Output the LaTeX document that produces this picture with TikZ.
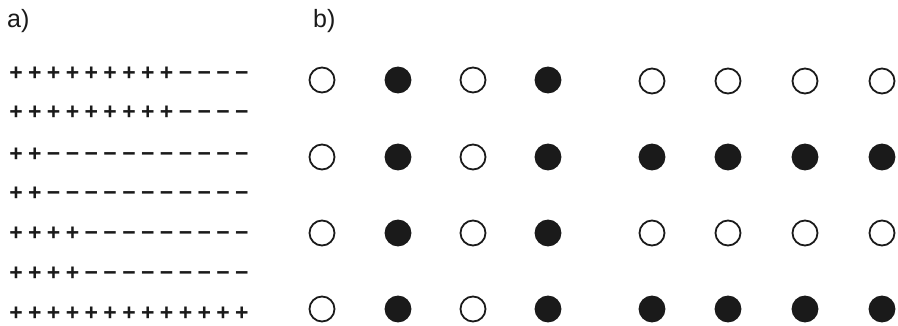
\documentclass[tikz,border=0pt]{standalone}
\usepackage{fontspec}
\setmainfont{Liberation Sans}
\definecolor{ink}{HTML}{1A1A1A}
\begin{document}
\begin{tikzpicture}[x=1pt,y=-1pt,
  dot/.style={circle,draw=ink,line width=1.8pt,minimum size=25pt,inner sep=0pt},
  opendot/.style={dot,fill=white},
  fulldot/.style={dot,fill=ink},
  sign/.style={font=\fontsize{23}{23}\selectfont\bfseries,inner sep=0pt,text=ink,anchor=base},
  lbl/.style={font=\fontsize{25}{25}\selectfont,inner sep=0pt,anchor=base west,text=ink}]
\useasboundingbox[fill=white] (0,0) rectangle (898,326);
\node[lbl] (la) at (7,28) {a)};
\node[lbl] (lb) at (313,28) {b)};
% sign rows
\foreach \r/\np/\y in {1/9/72,2/9/111,3/2/153,4/2/192,5/4/232,6/4/272,7/13/312}{
  \foreach \i in {1,...,13}{
    \pgfmathsetmacro{\xx}{16+(\i-1)*18.83}
    \ifnum\i>\np
      \node[sign] (s\r-\i) at (\xx,\y+8.1) {−};
    \else
      \node[sign] (s\r-\i) at (\xx,\y+8.1) {+};
    \fi
  }
}
% left dot group
\foreach \r/\y in {1/80,2/157,3/233,4/309}{
  \node[opendot] (L\r-1) at (322,\y) {};
  \node[fulldot] (L\r-2) at (398,\y) {};
  \node[opendot] (L\r-3) at (473,\y) {};
  \node[fulldot] (L\r-4) at (548,\y) {};
}
% right dot group
\foreach \r/\y/\st in {1/81/opendot,2/157/fulldot,3/233/opendot,4/309/fulldot}{
  \foreach \c/\x in {1/652,2/728,3/805,4/882}{
    \node[\st] (R\r-\c) at (\x,\y) {};
  }
}
\end{tikzpicture}
\end{document}
